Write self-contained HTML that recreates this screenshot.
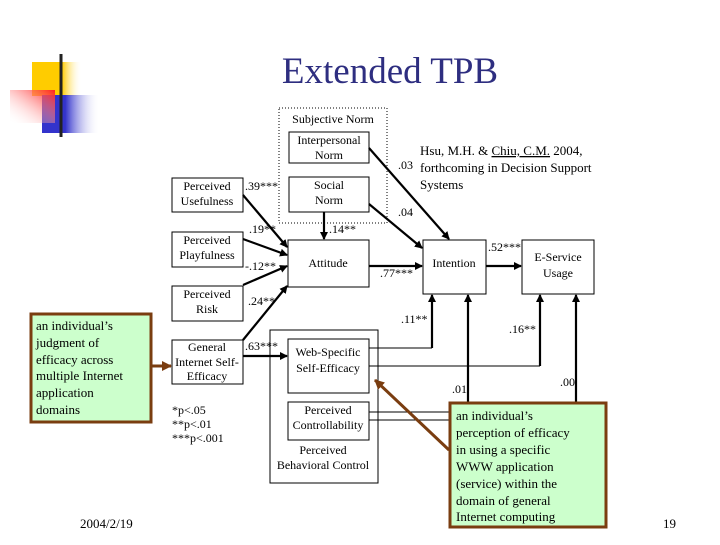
<!DOCTYPE html>
<html><head><meta charset="utf-8"><style>
html,body{margin:0;padding:0;background:#fff;}
svg text{font-family:"Liberation Serif",serif;}
.s{font-family:"Liberation Sans","DejaVu Sans",sans-serif;}
</style></head><body>
<svg width="720" height="540" viewBox="0 0 720 540" xmlns="http://www.w3.org/2000/svg">
<defs>
<linearGradient id="gy" x1="0" x2="1"><stop offset="0.6" stop-color="#ffcc00"/><stop offset="1" stop-color="#fff" stop-opacity="0"/></linearGradient>
<linearGradient id="gr" x1="1" y1="0" x2="0" y2="1"><stop offset="0" stop-color="#ff2020"/><stop offset="1" stop-color="#fff" stop-opacity="0"/></linearGradient>
<linearGradient id="gb" x1="0" x2="1"><stop offset="0.4" stop-color="#3333cc"/><stop offset="1" stop-color="#fff" stop-opacity="0"/></linearGradient>
<linearGradient id="gl" x1="0" x2="1"><stop offset="0" stop-color="#222"/><stop offset="1" stop-color="#999"/></linearGradient>
<marker id="a" markerWidth="8" markerHeight="8" refX="7" refY="4" orient="auto" markerUnits="userSpaceOnUse"><path d="M0,0 L8,4 L0,8 z" fill="#000"/></marker>
<marker id="ab" markerWidth="10" markerHeight="10" refX="9" refY="5" orient="auto" markerUnits="userSpaceOnUse"><path d="M0,0 L10,5 L0,10 z" fill="#7a3d10"/></marker>
</defs>
<rect x="32" y="62" width="50" height="34" fill="url(#gy)"/>
<rect x="42" y="95" width="58" height="38" fill="url(#gb)"/>
<rect x="10" y="90" width="45" height="33" fill="url(#gr)"/>
<line x1="61" y1="54" x2="61" y2="137" stroke="#222" stroke-width="3"/>
<line x1="34" y1="109" x2="720" y2="109" stroke="url(#gl)" stroke-width="3"/>
<text x="390" y="83" font-size="37" fill="#2e2e80" text-anchor="middle">Extended TPB</text>

<g fill="#fff" stroke="#000" stroke-width="1">
<rect x="279" y="108" width="108" height="115" stroke-dasharray="1,2"/>
<rect x="289" y="132" width="80" height="31"/>
<rect x="289" y="177" width="80" height="35"/>
<rect x="172" y="178" width="71" height="34"/>
<rect x="172" y="232" width="71" height="35"/>
<rect x="172" y="286" width="71" height="35"/>
<rect x="172" y="340" width="71" height="44"/>
<rect x="288" y="240" width="81" height="47"/>
<rect x="423" y="240" width="63" height="54"/>
<rect x="522" y="240" width="72" height="54"/>
<rect x="270" y="330" width="108" height="153"/>
<rect x="288" y="339" width="81" height="54"/>
<rect x="288" y="402" width="81" height="38"/>
</g>
<g font-size="12" text-anchor="middle">
<text x="333" y="123">Subjective Norm</text>
<text x="329" y="144">Interpersonal</text><text x="329" y="159">Norm</text>
<text x="329" y="189">Social</text><text x="329" y="204">Norm</text>
<text x="207" y="190">Perceived</text><text x="207" y="205">Usefulness</text>
<text x="207" y="244">Perceived</text><text x="207" y="259">Playfulness</text>
<text x="207" y="298">Perceived</text><text x="207" y="313">Risk</text>
<text x="207" y="351">General</text><text x="207" y="366">Internet Self-</text><text x="207" y="380">Efficacy</text>
<text x="328" y="267">Attitude</text>
<text x="454" y="267">Intention</text>
<text x="558" y="261">E-Service</text><text x="558" y="277">Usage</text>
<text x="328" y="356">Web-Specific</text><text x="328" y="372">Self-Efficacy</text>
<text x="328" y="414">Perceived</text><text x="328" y="429">Controllability</text>
<text x="323" y="454">Perceived</text><text x="323" y="469">Behavioral Control</text>
</g>
<g stroke="#000" stroke-width="2.2" fill="none" marker-end="url(#a)">
<line x1="243" y1="195" x2="287" y2="247"/>
<line x1="243" y1="239" x2="287" y2="255"/>
<line x1="243" y1="285" x2="287" y2="266"/>
<line x1="243" y1="340" x2="287" y2="286"/>
<line x1="324" y1="212" x2="324" y2="239"/>
<line x1="369" y1="266" x2="422" y2="266"/>
<line x1="369" y1="148" x2="449" y2="239"/>
<line x1="369" y1="204" x2="422" y2="248"/>
<line x1="486" y1="266" x2="521" y2="266"/>
<line x1="243" y1="356" x2="287" y2="356"/>
<line x1="432" y1="348" x2="432" y2="295"/>
<line x1="468" y1="402" x2="468" y2="295"/>
<line x1="540" y1="366" x2="540" y2="295"/>
<line x1="576" y1="402" x2="576" y2="295"/>
</g>
<g stroke="#000" stroke-width="1" fill="none">
<line x1="369" y1="348" x2="432" y2="348"/>
<line x1="369" y1="366" x2="540" y2="366"/>
<line x1="369" y1="412" x2="449" y2="412"/>
<line x1="369" y1="420" x2="449" y2="420"/>
</g>
<g font-size="12">
<text x="245" y="190">.39***</text>
<text x="249" y="233">.19**</text>
<text x="245" y="270">-.12**</text>
<text x="248" y="305">.24**</text>
<text x="245" y="350">.63***</text>
<text x="329" y="233">.14**</text>
<text x="380" y="277">.77***</text>
<text x="398" y="169">.03</text>
<text x="398" y="216">.04</text>
<text x="488" y="251">.52***</text>
<text x="401" y="323">.11**</text>
<text x="509" y="333">.16**</text>
<text x="452" y="393">.01</text>
<text x="560" y="386">.00</text>
<text x="172" y="414">*p&lt;.05</text>
<text x="172" y="428">**p&lt;.01</text>
<text x="172" y="442">***p&lt;.001</text>
</g>
<g class="s" font-size="13">
<text x="420" y="155">Hsu, M.H. &amp; <tspan text-decoration="underline">Chiu, C.M.</tspan> 2004,</text>
<text x="420" y="172">forthcoming in Decision Support</text>
<text x="420" y="189">Systems</text>
</g>
<line x1="449" y1="450" x2="375" y2="380" stroke="#7a3d10" stroke-width="3" marker-end="url(#ab)"/>
<line x1="151" y1="366" x2="171" y2="366" stroke="#7a3d10" stroke-width="3" marker-end="url(#ab)"/>
<rect x="31" y="314" width="120" height="108" fill="#ccffcc" stroke="#7a3d10" stroke-width="3"/>
<rect x="450" y="403" width="156" height="124" fill="#ccffcc" stroke="#7a3d10" stroke-width="3"/>
<g class="s" font-size="13">
<text x="36" y="330">an individual’s</text>
<text x="36" y="347">judgment of</text>
<text x="36" y="364">efficacy across</text>
<text x="36" y="380">multiple Internet</text>
<text x="36" y="397">application</text>
<text x="36" y="414">domains</text>
<text x="456" y="420">an individual’s</text>
<text x="456" y="437">perception of efficacy</text>
<text x="456" y="454">in using a specific</text>
<text x="456" y="471">WWW application</text>
<text x="456" y="488">(service) within the</text>
<text x="456" y="505">domain of general</text>
<text x="456" y="521">Internet computing</text>
<text x="80" y="528">2004/2/19</text>
<text x="663" y="528">19</text>
</g>
</svg>
</body></html>
